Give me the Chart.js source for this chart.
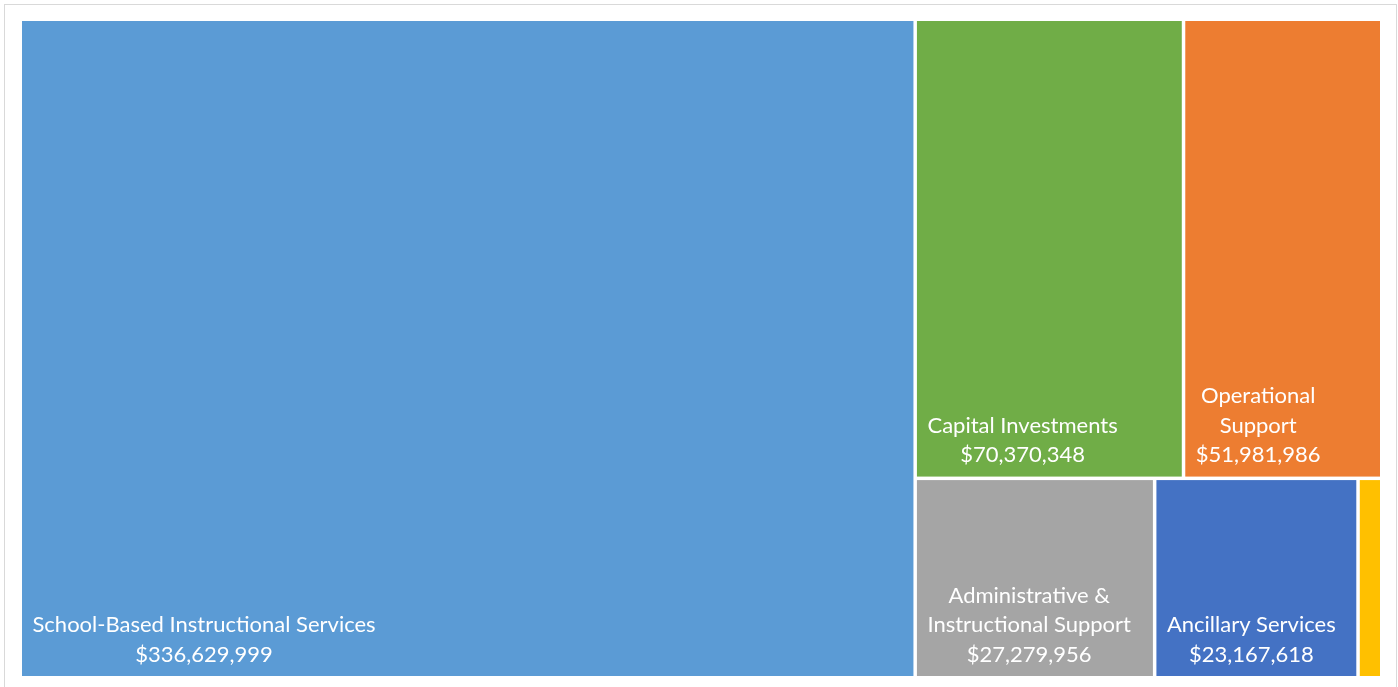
<!DOCTYPE html>
<html>
<head>
<meta charset="utf-8">
<title>Budget by Function</title>
<script src="https://cdn.jsdelivr.net/npm/chart.js@4/dist/chart.umd.min.js"></script>
<style>
  html, body { margin: 0; padding: 0; background: #ffffff; }
  #wrap { position: relative; width: 1398px; height: 687px; }
  #frame { position: absolute; left: 4px; top: 4px; width: 1393px; height: 700px; border: 1px solid #d9d9d9; box-sizing: border-box; pointer-events: none; }
</style>
</head>
<body>
<div id="wrap">
  <canvas id="chart"></canvas>
  <div id="frame"></div>
</div>
<script>
// Budget categories and amounts (USD)
const categories = [
  'School-Based Instructional Services',
  'Capital Investments',
  'Operational Support',
  'Administrative & Instructional Support',
  'Ancillary Services',
  'Other Services'
];
const amounts = [336629999, 70370348, 51981986, 27279956, 23167618, 2700000];
const tileColors = ['#5B9BD5', '#70AD47', '#ED7D31', '#A5A5A5', '#4472C4', '#FFC000'];
// Tiling groups: first group fills a full-height column, later groups stack as rows
const tileGroups = [[0], [1, 2], [3, 4, 5]];

const fmtMoney = v => '$' + v.toLocaleString('en-US');

// Compute tiles in unit space (0..1 on both axes) from the amounts
function layoutTiles() {
  const total = amounts.reduce((a, b) => a + b, 0);
  const tiles = [];
  const firstSum = tileGroups[0].reduce((s, i) => s + amounts[i], 0);
  const colW = firstSum / total;
  let y = 0;
  tileGroups[0].forEach(i => {
    const h = amounts[i] / firstSum;
    tiles.push({ index: i, x0: 0, x1: colW, y0: y, y1: y + h });
    y += h;
  });
  const restSum = total - firstSum;
  let ry = 0;
  tileGroups.slice(1).forEach(group => {
    const gSum = group.reduce((s, i) => s + amounts[i], 0);
    const h = gSum / restSum;
    let x = colW;
    group.forEach(i => {
      const w = (1 - colW) * amounts[i] / gSum;
      tiles.push({ index: i, x0: x, x1: x + w, y0: ry, y1: ry + h });
      x += w;
    });
    ry += h;
  });
  return tiles;
}

const tiles = layoutTiles();

const FONT = '22px Lato, "Open Sans", sans-serif';
const GAP = 1.75;
const PAD = 10.5;
const LINE_H = 29.5;
const BOTTOM_PAD = 14.5;

function wrapWords(ctx, text, maxW) {
  const words = text.split(' ');
  const lines = [];
  let cur = '';
  for (const w of words) {
    const test = cur ? cur + ' ' + w : w;
    if (ctx.measureText(test).width <= maxW || !cur) {
      cur = test;
    } else {
      lines.push(cur);
      cur = w;
    }
  }
  if (cur) lines.push(cur);
  return lines;
}

const treemapTiles = {
  id: 'treemapTiles',
  afterDatasetsDraw(chart) {
    const { ctx, scales } = chart;
    const xs = scales.x, ys = scales.y;
    ctx.save();
    tiles.forEach(t => {
      const left = xs.getPixelForValue(t.x0) + GAP;
      const right = xs.getPixelForValue(t.x1) - GAP;
      const top = ys.getPixelForValue(t.y0) + GAP;
      const bottom = ys.getPixelForValue(t.y1) - GAP;
      ctx.fillStyle = tileColors[t.index];
      ctx.fillRect(left, top, right - left, bottom - top);

      // label block: name lines plus amount, anchored bottom-left, lines centred
      ctx.font = FONT;
      const maxW = right - left - 2 * PAD;
      const lines = wrapWords(ctx, categories[t.index], maxW);
      lines.push(fmtMoney(amounts[t.index]));
      const widths = lines.map(l => ctx.measureText(l).width);
      const blockW = Math.max(...widths);
      if (blockW > maxW || lines.length * LINE_H > bottom - top) return;
      const cx = left + PAD + blockW / 2;
      ctx.fillStyle = '#ffffff';
      ctx.textAlign = 'center';
      ctx.textBaseline = 'alphabetic';
      lines.forEach((l, k) => {
        const by = bottom - BOTTOM_PAD - (lines.length - 1 - k) * LINE_H;
        ctx.fillText(l, cx, by);
      });
    });
    ctx.restore();
  }
};

new Chart(document.getElementById('chart'), {
  type: 'scatter',
  data: {
    datasets: [{
      label: 'Budget',
      data: tiles.map(t => ({ x: (t.x0 + t.x1) / 2, y: (t.y0 + t.y1) / 2 })),
      pointRadius: 0,
      pointHoverRadius: 0
    }]
  },
  options: {
    responsive: true,
    maintainAspectRatio: false,
    animation: false,
    layout: { padding: { left: 20.25, right: 16.25, top: 19.25, bottom: 9.25 } },
    scales: {
      x: { type: 'linear', min: 0, max: 1, display: false },
      y: { type: 'linear', min: 0, max: 1, reverse: true, display: false }
    },
    plugins: { legend: { display: false }, tooltip: { enabled: false } },
    events: []
  },
  plugins: [treemapTiles]
});
</script>
</body>
</html>
